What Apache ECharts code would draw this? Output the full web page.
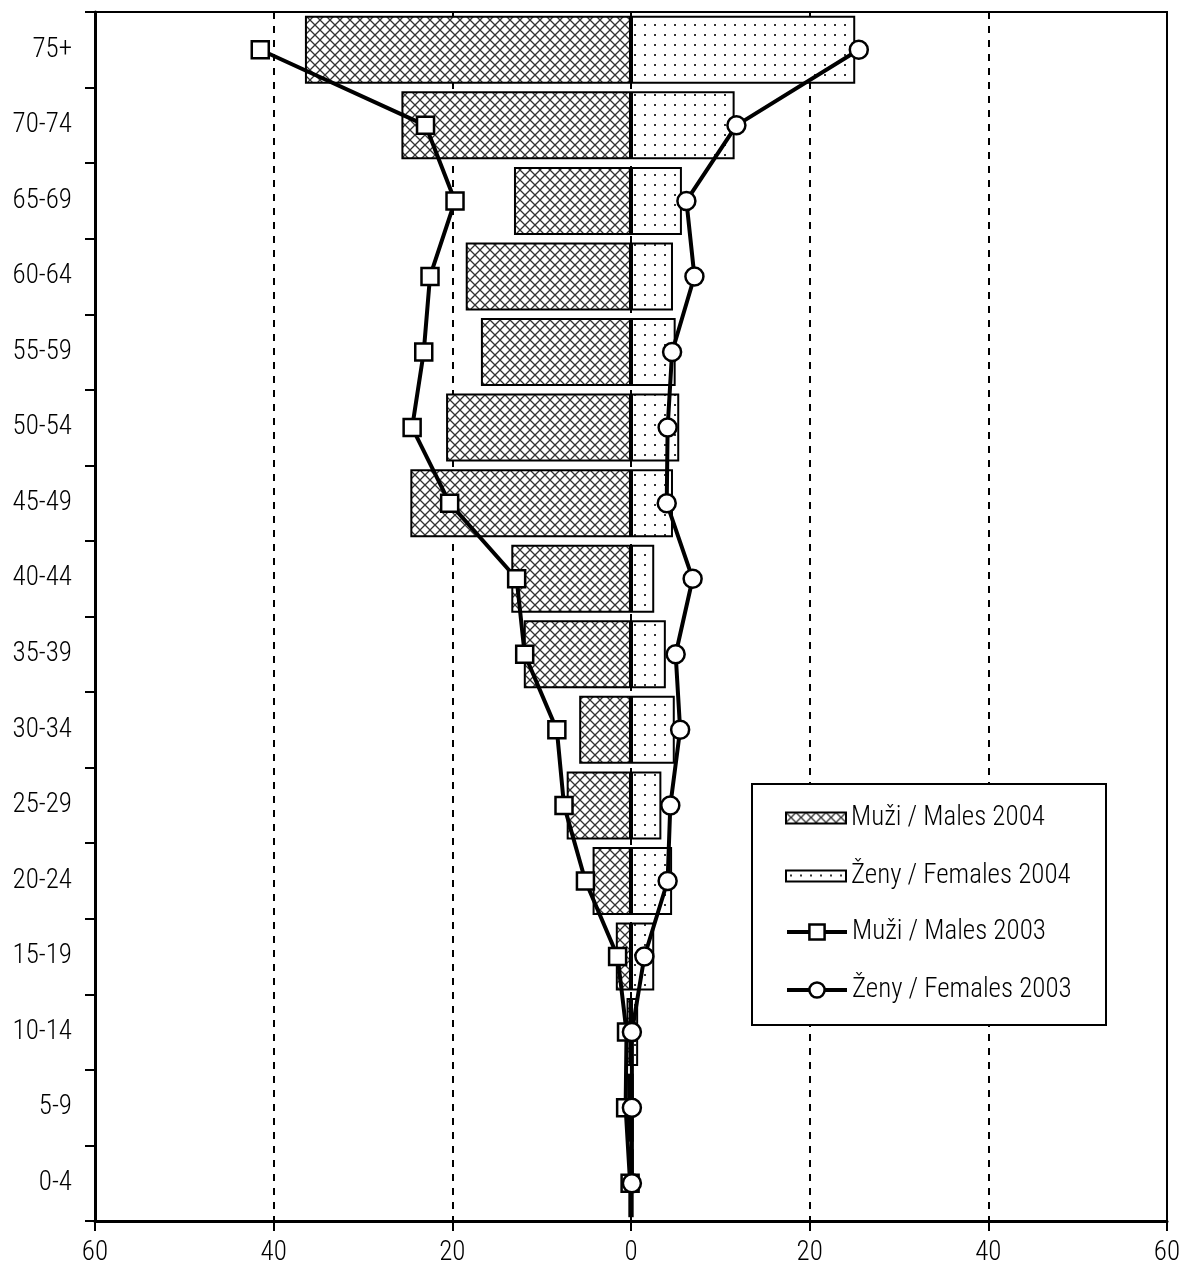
<!DOCTYPE html>
<html>
<head>
<meta charset="utf-8">
<script src="https://cdn.jsdelivr.net/npm/echarts@6/dist/echarts.min.js"></script>
<style>
html,body{margin:0;padding:0;background:#fff;}
#chart{width:1185px;height:1281px;}
</style>
</head>
<body>
<div id="chart"></div>
<script>
const categories = ['0-4','5-9','10-14','15-19','20-24','25-29','30-34','35-39','40-44','45-49','50-54','55-59','60-64','65-69','70-74','75+'];
const males2004 = [-0.3,-0.4,-0.5,-1.7,-4.3,-7.2,-5.8,-12.0,-13.4,-24.7,-20.7,-16.8,-18.5,-13.1,-25.7,-36.5];
const females2004 = [0.3,0.3,0.8,2.6,4.6,3.4,4.9,3.9,2.6,4.7,5.4,5.0,4.7,5.7,11.6,25.1];
const males2003 = [-0.1,-0.6,-0.5,-1.5,-5.1,-7.5,-8.3,-11.9,-12.8,-20.3,-24.5,-23.2,-22.5,-19.7,-23.0,-41.5];
const females2003 = [0.1,0.1,0.1,1.5,4.1,4.4,5.5,5.0,6.9,4.0,4.1,4.6,7.1,6.2,11.8,25.5];
const xTicks = {min:-60, max:60, interval:20};
const names = ['Muži / Males 2004','Ženy / Females 2004','Muži / Males 2003','Ženy / Females 2003'];

function hatch(){
  const c = document.createElement('canvas'); c.width = 10; c.height = 10;
  const g = c.getContext('2d');
  g.fillStyle = '#fff'; g.fillRect(0,0,10,10);
  g.strokeStyle = '#333'; g.lineWidth = 1.3;
  g.beginPath(); g.moveTo(0,0); g.lineTo(10,10); g.moveTo(10,0); g.lineTo(0,10); g.stroke();
  return c;
}
function dots(){
  const c = document.createElement('canvas'); c.width = 10; c.height = 10;
  const g = c.getContext('2d');
  g.fillStyle = '#fff'; g.fillRect(0,0,10,10);
  g.fillStyle = '#333'; g.fillRect(4,4,2,2);
  return c;
}
const font = "'Roboto Condensed','DejaVu Sans Condensed',sans-serif";
const legendText = {fontFamily:font,fontSize:27,fontWeight:300,color:'#000',lineHeight:30};
const chart = echarts.init(document.getElementById('chart'), null, {renderer:'canvas'});
chart.setOption({
  animation:false,
  backgroundColor:'#fff',
  textStyle:{fontFamily:font},
  graphic:[{type:'rect',z:3,shape:{x:752,y:784,width:354,height:241},style:{fill:'#fff',stroke:'#000',lineWidth:2}}],
  grid:{left:95,right:18,top:12,bottom:60,show:true,borderColor:'#000',borderWidth:2,backgroundColor:'transparent'},
  legend:[
    {
      orient:'vertical', left:785, top:803, padding:0, itemGap:28, itemWidth:60, itemHeight:11, z:4,
      textStyle:legendText,
      itemStyle:{borderColor:'#000',borderWidth:2},
      data:[{name:names[0],icon:'rect'},{name:names[1],icon:'rect'}]
    },
    {
      orient:'vertical', left:785, top:917, padding:0, itemGap:28, itemWidth:60, itemHeight:19, z:4,
      textStyle:legendText,
      lineStyle:{width:4,color:'#000'},
      itemStyle:{borderColor:'#000',borderWidth:2.5,color:'#fff'},
      data:[{name:names[2]},{name:names[3]}]
    }
  ],
  xAxis:{
    type:'value', min:xTicks.min, max:xTicks.max, interval:xTicks.interval,
    axisLine:{show:true,onZero:false,lineStyle:{color:'#000',width:3}},
    axisTick:{show:true,length:10,lineStyle:{color:'#000',width:2}},
    axisLabel:{color:'#000',fontSize:27,fontWeight:300,fontFamily:font,margin:19,formatter:v=>String(Math.abs(v))},
    splitLine:{show:true,lineStyle:{color:'#000',width:2,type:[7,7]}}
  },
  yAxis:{
    type:'category', data:categories,
    axisLine:{show:true,onZero:false,lineStyle:{color:'#000',width:3}},
    axisTick:{show:true,length:10,lineStyle:{color:'#000',width:2}},
    axisLabel:{color:'#000',fontSize:27,fontWeight:300,fontFamily:font,margin:23},
    splitLine:{show:false}
  },
  series:[
    {name:names[0],type:'bar',data:males2004,barWidth:'90%',barGap:'-100%',z:2,
      itemStyle:{color:{image:hatch(),repeat:'repeat'},borderColor:'#000',borderWidth:2}},
    {name:names[1],type:'bar',data:females2004,barWidth:'90%',barGap:'-100%',z:2,
      itemStyle:{color:{image:dots(),repeat:'repeat'},borderColor:'#000',borderWidth:2}},
    {name:names[2],type:'line',data:males2003,z:5,symbol:'rect',symbolSize:17,
      lineStyle:{color:'#000',width:4},itemStyle:{color:'#fff',borderColor:'#000',borderWidth:2.5}},
    {name:names[3],type:'line',data:females2003,z:5,symbol:'circle',symbolSize:18,
      lineStyle:{color:'#000',width:4},itemStyle:{color:'#fff',borderColor:'#000',borderWidth:2.5}}
  ]
});
</script>
</body>
</html>
